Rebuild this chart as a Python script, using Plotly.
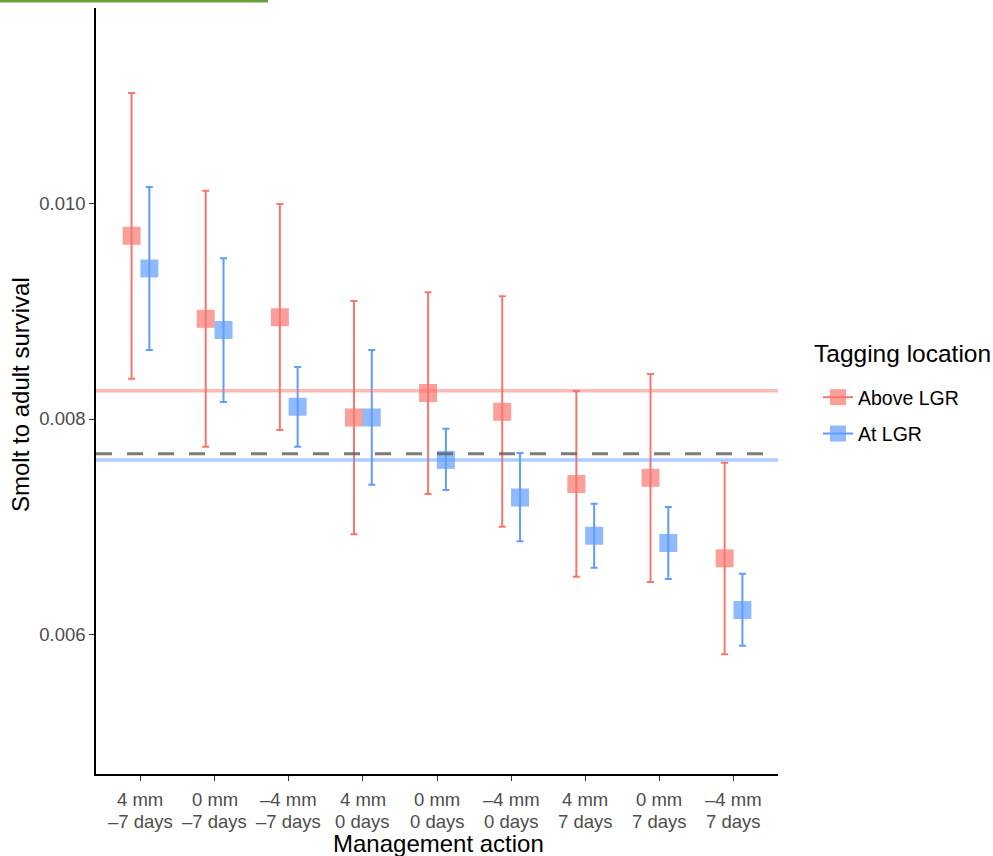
import plotly.graph_objects as go

categories = ["4 mm<br>–7 days", "0 mm<br>–7 days", "–4 mm<br>–7 days",
              "4 mm<br>0 days", "0 mm<br>0 days", "–4 mm<br>0 days",
              "4 mm<br>7 days", "0 mm<br>7 days", "–4 mm<br>7 days"]

above_mean = [0.009704, 0.008932, 0.008946, 0.008014, 0.008242, 0.008067, 0.007395, 0.007453, 0.006704]
above_hi   = [0.011033, 0.010124, 0.010000, 0.009098, 0.009179, 0.009141, 0.008260, 0.008419, 0.007593]
above_lo   = [0.008375, 0.007742, 0.007898, 0.006928, 0.007302, 0.006998, 0.006533, 0.006484, 0.005811]

at_mean = [0.009400, 0.008828, 0.008114, 0.008014, 0.007620, 0.007270, 0.006914, 0.006847, 0.006223]
at_hi   = [0.010158, 0.009495, 0.008484, 0.008642, 0.007910, 0.007684, 0.007212, 0.007181, 0.006561]
at_lo   = [0.008642, 0.008158, 0.007742, 0.007389, 0.007340, 0.006862, 0.006617, 0.006512, 0.005891]

above_ref = 0.008262
at_ref = 0.007619
baseline_ref = 0.007677

y_ticks = [0.006, 0.008, 0.010]
y_ticklabels = ["0.006", "0.008", "0.010"]

RED = "#F8766D"
BLUE = "#619CFF"
dodge = 0.12

pos = list(range(1, len(categories) + 1))

# plot area geometry (px)
L, T, W, H = 96, 8, 682, 766

fig = go.Figure()

def add_series(name, mean, hi, lo, color, offset, group):
    xs = [p + offset for p in pos]
    fig.add_trace(go.Scatter(
        x=xs, y=mean, mode="markers", name=name, showlegend=False,
        legendgroup=group,
        marker=dict(symbol="square", size=18, color=color, opacity=0.7,
                    line=dict(width=0)),
        error_y=dict(type="data", symmetric=False,
                     array=[h - m for h, m in zip(hi, mean)],
                     arrayminus=[m - l for m, l in zip(mean, lo)],
                     color=color, thickness=2, width=3.5),
    ))
    fig.add_trace(go.Scatter(
        x=[None], y=[None], mode="lines+markers", name=name,
        legendgroup=group,
        line=dict(color=color, width=2),
        marker=dict(symbol="square", size=18, color=color, opacity=0.7),
    ))

# reference horizontal lines
fig.add_hline(y=above_ref, line=dict(color="rgba(248,118,109,0.5)", width=3.5))
fig.add_hline(y=at_ref, line=dict(color="rgba(97,156,255,0.5)", width=3.5))
fig.add_hline(y=baseline_ref, line=dict(color="rgba(100,100,100,0.85)", width=3, dash="16px,15px"))

add_series("Above LGR", above_mean, above_hi, above_lo, RED, -dodge, "a")
add_series("At LGR", at_mean, at_hi, at_lo, BLUE, dodge, "b")

def px_x(x):
    return (x - L) / W

def px_y(y):
    return (T + H - y) / H

# decorative green rule at the top-left of the page
fig.add_shape(type="line", xref="paper", yref="paper",
              x0=px_x(0), x1=px_x(268), y0=px_y(1), y1=px_y(1),
              line=dict(color="#6A9F3C", width=3))

# two-line category labels (tighter line spacing than plotly's default)
for p, lab in zip(pos, categories):
    line1, line2 = lab.split("<br>")
    fig.add_annotation(text=line1, xref="x", yref="paper", x=p, y=px_y(799),
                       yanchor="middle", showarrow=False, borderpad=0,
                       font=dict(size=18.5, color="#4D4D4D"))
    fig.add_annotation(text=line2, xref="x", yref="paper", x=p, y=px_y(821),
                       yanchor="middle", showarrow=False, borderpad=0,
                       font=dict(size=18.5, color="#4D4D4D"))

# axis titles
fig.add_annotation(text="Management action", xref="paper", yref="paper",
                   x=px_x(438), y=px_y(843), yanchor="middle", showarrow=False,
                   font=dict(size=24, color="black"))
fig.add_annotation(text="Smolt to adult survival", xref="paper", yref="paper",
                   x=px_x(20), y=px_y(395), textangle=-90, xanchor="center",
                   yanchor="middle", showarrow=False,
                   font=dict(size=24, color="black"))

# legend title as annotation
fig.add_annotation(text="Tagging location", xref="paper", yref="paper",
                   x=px_x(812), y=px_y(353), xanchor="left", yanchor="middle",
                   showarrow=False, font=dict(size=24.5, color="black"))

fig.update_layout(
    width=993, height=856,
    margin=dict(l=L, r=993 - L - W, t=T, b=856 - T - H),
    plot_bgcolor="white", paper_bgcolor="white",
    font=dict(family="Liberation Sans, Arial, sans-serif", color="black"),
    xaxis=dict(
        range=[0.4, 9.6], tickmode="array", tickvals=pos, showticklabels=False,
        automargin=False,
        showgrid=False, zeroline=False, showline=True, linecolor="black", linewidth=1.5,
        ticks="outside", ticklen=5, tickcolor="#333333", tickwidth=1.2,
    ),
    yaxis=dict(
        range=[0.004698, 0.011823], tickmode="array",
        tickvals=y_ticks, ticktext=y_ticklabels, automargin=False,
        showgrid=False, zeroline=False, showline=True, linecolor="black", linewidth=1.5,
        ticks="outside", ticklen=5, tickcolor="#333333", tickwidth=1.2,
        tickfont=dict(size=18.5, color="#4D4D4D"),
    ),
    legend=dict(
        x=px_x(818), y=px_y(378), xanchor="left", yanchor="top",
        font=dict(size=19.5, color="black"),
        traceorder="grouped", tracegroupgap=8,
        bgcolor="rgba(0,0,0,0)",
    ),
)

fig.write_html("out.html")
